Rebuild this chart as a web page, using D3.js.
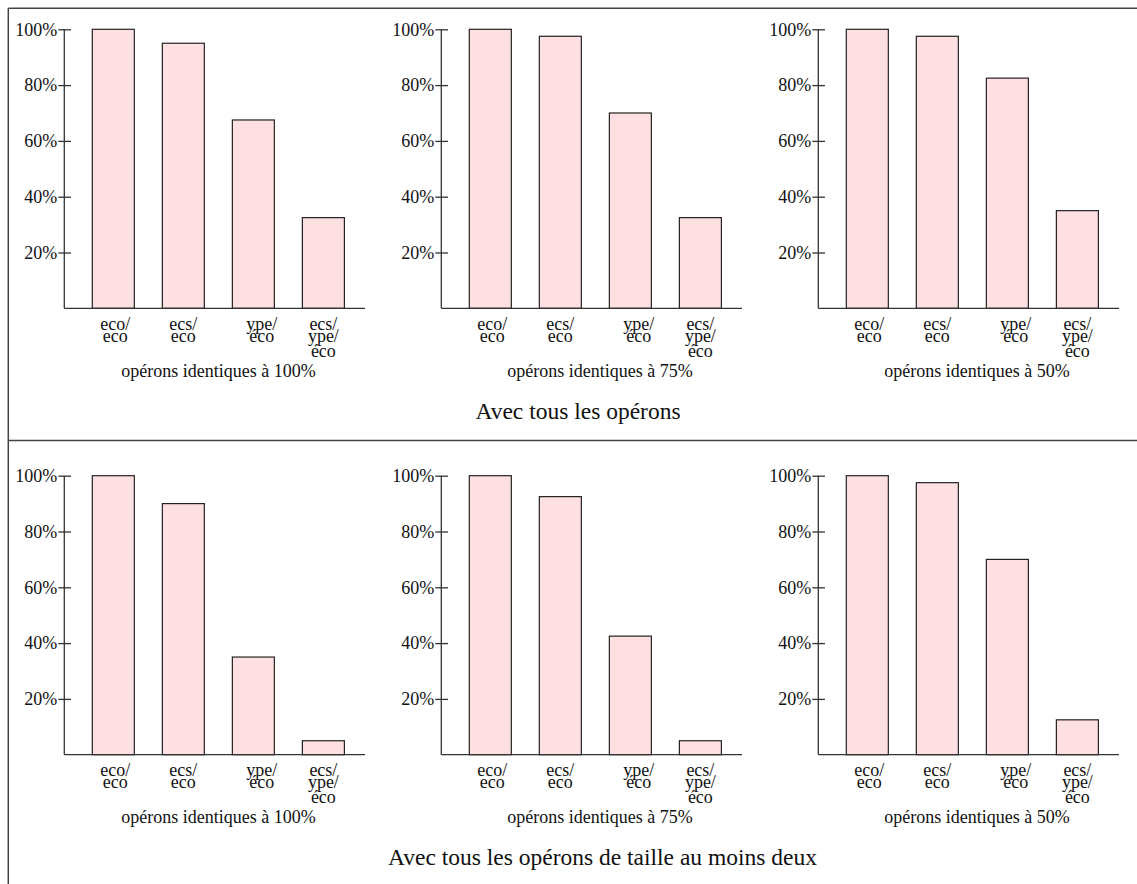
<!DOCTYPE html>
<html>
<head>
<meta charset="utf-8">
<script src="https://cdn.jsdelivr.net/npm/d3@7"></script>
<style>
  html, body { margin: 0; padding: 0; background: #fff; }
  svg { display: block; }
  text { font-family: "Liberation Serif", "Times New Roman", serif; fill: #111; }
</style>
</head>
<body>
<svg id="chart" width="1137" height="884"></svg>
<script>
// Operon pairs compared (one multi-line label per bar)
const categories = [
  ["eco/", "eco"],
  ["ecs/", "eco"],
  ["ype/", "éco"],
  ["ecs/", "ype/", "éco"]
];
const yTicks = [20, 40, 60, 80, 100];
const identityLevels = ["100%", "75%", "50%"];
const rowTitles = [
  "Avec tous les opérons",
  "Avec tous les opérons de taille au moins deux"
];

// Share of conserved operons (%), all operons
const allOperons100 = [100, 95, 67.5, 32.5];
const allOperons75  = [100, 97.5, 70, 32.5];
const allOperons50  = [100, 97.5, 82.5, 35];

// Share of conserved operons (%), operons with at least two genes
const multiGene100 = [100, 90, 35, 5];
const multiGene75  = [100, 92.5, 42.5, 5];
const multiGene50  = [100, 97.5, 70, 12.5];

const rows = [
  [allOperons100, allOperons75, allOperons50],
  [multiGene100, multiGene75, multiGene50]
];

// ---- layout ----
const panelX = [64.3, 441.3, 818.3];   // y-axis position of each panel
const rowZero = [308.3, 754.7];        // baseline (0%) of each row
const plotH = 279;
const baseLen = 300.7;
const titleX = [578, 602.5];
const titleY = [418.5, 865];
const lineOffsets = [0, 11.7, 26.7];
const labelNudge = [2, 0, 8.4, 0];

const svg = d3.select("#chart");

// frame and row separator
const frame = svg.append("g").attr("stroke", "#444").attr("stroke-width", 1.5);
frame.append("line").attr("x1", 8.3).attr("x2", 1137).attr("y1", 8.3).attr("y2", 8.3);
frame.append("line").attr("x1", 8.3).attr("x2", 8.3).attr("y1", 8.3).attr("y2", 884);
frame.append("line").attr("x1", 8.3).attr("x2", 1137).attr("y1", 440.6).attr("y2", 440.6);

const y = d3.scaleLinear().domain([0, 100]).range([0, -plotH]);
const x = d3.scaleBand()
  .domain(d3.range(categories.length))
  .range([0, 308.1])
  .paddingInner(0.4)
  .paddingOuter(0.4);

rows.forEach((panels, r) => {
  panels.forEach((values, p) => {
    const g = svg.append("g")
      .attr("transform", `translate(${panelX[p]},${rowZero[r]})`);

    // bars
    g.selectAll("rect")
      .data(values)
      .join("rect")
      .attr("x", (d, i) => x(i))
      .attr("width", x.bandwidth())
      .attr("y", d => y(d))
      .attr("height", d => y(0) - y(d))
      .attr("fill", "#ffe0e2")
      .attr("stroke", "#222")
      .attr("stroke-width", 1.2);

    // baseline
    g.append("line")
      .attr("x1", 0).attr("x2", baseLen)
      .attr("y1", 0).attr("y2", 0)
      .attr("stroke", "#333").attr("stroke-width", 1.3);

    // y axis
    const ax = g.append("g")
      .call(d3.axisLeft(y)
        .tickValues(yTicks)
        .tickFormat(d => d + "%")
        .tickSize(6)
        .tickPadding(1));
    ax.select(".domain").remove();
    ax.attr("font-family", null).attr("font-size", null);
    ax.selectAll(".tick line")
      .attr("x1", 6.7)
      .attr("stroke", "#333")
      .attr("stroke-width", 1.3);
    ax.selectAll(".tick text")
      .attr("font-size", 18)
      .attr("fill", "#111");
    g.append("line")
      .attr("x1", 0).attr("x2", 0)
      .attr("y1", 0).attr("y2", y(100))
      .attr("stroke", "#333").attr("stroke-width", 1.3);

    // category labels
    g.selectAll("text.cat")
      .data(categories)
      .join("text")
      .attr("class", "cat")
      .attr("font-size", 18)
      .attr("text-anchor", "middle")
      .each(function (lines, i) {
        const cx = x(i) + x.bandwidth() / 2 + labelNudge[i];
        d3.select(this).selectAll("tspan")
          .data(lines)
          .join("tspan")
          .attr("x", cx)
          .attr("y", (d, k) => 21.7 + lineOffsets[k])
          .text(d => d);
      });

    // panel subtitle
    g.append("text")
      .attr("x", 251.5)
      .attr("y", 68.7)
      .attr("text-anchor", "end")
      .attr("font-size", 18)
      .text(`opérons identiques à ${identityLevels[p]}`);
  });

  svg.append("text")
    .attr("x", titleX[r])
    .attr("y", titleY[r])
    .attr("text-anchor", "middle")
    .attr("font-size", 23.5)
    .text(rowTitles[r]);
});
</script>
</body>
</html>
